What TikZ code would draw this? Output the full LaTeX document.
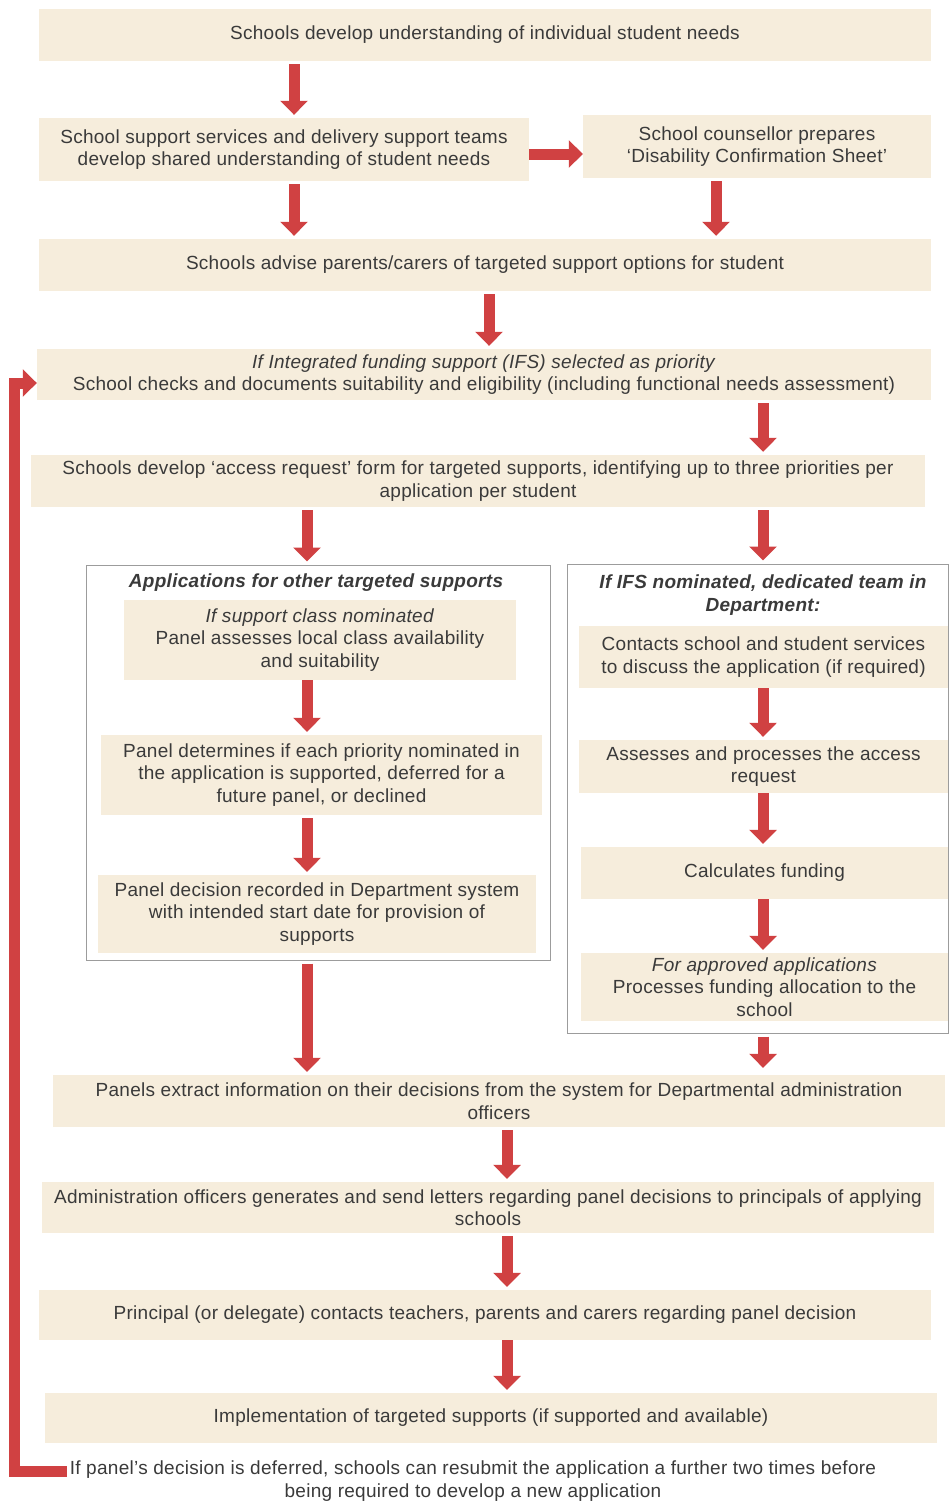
\documentclass[tikz,border=0pt]{standalone}
\usepackage{fontspec}
\setmainfont[LetterSpace=1.5]{Liberation Sans}
\usetikzlibrary{arrows.meta}

\definecolor{boxfill}{HTML}{F6EDDC}
\definecolor{flowred}{HTML}{D04142}
\definecolor{inktext}{HTML}{3A3A3A}
\definecolor{framegray}{HTML}{9C9C9C}

\begin{document}
\begin{tikzpicture}[x=1pt,y=-1pt,
  box/.style={fill=boxfill, text=inktext, align=center, inner sep=0pt,
              font=\fontsize{19}{22.5}\selectfont},
  frame/.style={draw=framegray, line width=1pt, inner sep=0pt},
  heading/.style={text=inktext, align=center, inner sep=0pt,
                  font=\fontsize{19}{23}\selectfont\bfseries\itshape},
  flow/.style={draw=flowred, line width=11pt, line join=miter,
               -{Triangle[width=27pt,length=14pt]},
               shorten <=3pt, shorten >=3pt},
]
\useasboundingbox (0,0) rectangle (949,1501);

% columns and rows the arrows run along
\coordinate (colA) at (294,0);
\coordinate (colB) at (716,0);
\coordinate (colC) at (489,0);
\coordinate (colD) at (763,0);
\coordinate (colE) at (307,0);
\coordinate (colG) at (507,0);
\coordinate (rowH) at (0,154);
\coordinate (backLow) at (14,1471);
\coordinate (backHigh) at (14,383);

% main steps
\node[box, minimum width=892pt, minimum height=52pt] (needs) at (485,35)
  {Schools develop understanding of individual student needs};
\node[box, minimum width=490pt, minimum height=63pt] (shared) at (284,149.5)
  {School support services and delivery support teams\\develop shared understanding of student needs};
\node[box, minimum width=348pt, minimum height=63pt] (counsellor) at (757,146.5)
  {School counsellor prepares\\‘Disability Confirmation Sheet’};
\node[box, minimum width=892pt, minimum height=52pt] (advise) at (485,265)
  {Schools advise parents/carers of targeted support options for student};
\node[box, minimum width=894pt, minimum height=51pt] (ifs) at (484,374.5)
  {\textit{If Integrated funding support (IFS) selected as priority}\\School checks and documents suitability and eligibility (including functional needs assessment)};
\node[box, minimum width=894pt, minimum height=52pt] (access) at (478,481)
  {Schools develop ‘access request’ form for targeted supports, identifying up to three priorities per\\application per student};

% left panel
\node[frame, minimum width=464pt, minimum height=395pt] (panelL) at (318,762.5) {};
\node[heading] (titleL) at (316,583) {Applications for other targeted supports};
\node[box, minimum width=392pt, minimum height=80pt] (classL) at (320,640)
  {\textit{If support class nominated}\\Panel assesses local class availability\\and suitability};
\node[box, minimum width=441pt, minimum height=80pt] (decideL) at (321.5,775)
  {Panel determines if each priority nominated in\\the application is supported, deferred for a\\future panel, or declined};
\node[box, minimum width=438pt, minimum height=78pt] (recordL) at (317,914)
  {Panel decision recorded in Department system\\with intended start date for provision of\\supports};

% right panel
\node[frame, minimum width=381pt, minimum height=469pt] (panelR) at (757.5,798.5) {};
\node[heading] (titleR) at (763,595) {If IFS nominated, dedicated team in\\Department:};
\node[box, minimum width=369pt, minimum height=62pt] (contactR) at (763.5,657)
  {Contacts school and student services\\to discuss the application (if required)};
\node[box, minimum width=369pt, minimum height=53pt] (assessR) at (763.5,766.5)
  {Assesses and processes the access\\request};
\node[box, minimum width=367pt, minimum height=52pt] (fundR) at (764.5,873)
  {Calculates funding};
\node[box, minimum width=367pt, minimum height=68pt] (allocR) at (764.5,987)
  {\textit{For approved applications}\\Processes funding allocation to the\\school};

% closing steps
\node[box, minimum width=892pt, minimum height=52pt] (extract) at (499,1101)
  {Panels extract information on their decisions from the system for Departmental administration\\officers};
\node[box, minimum width=892pt, minimum height=51pt] (letters) at (488,1207.5)
  {Administration officers generates and send letters regarding panel decisions to principals of applying\\schools};
\node[box, minimum width=892pt, minimum height=50pt] (principal) at (485,1315)
  {Principal (or delegate) contacts teachers, parents and carers regarding panel decision};
\node[box, minimum width=892pt, minimum height=50pt] (implement) at (491,1418)
  {Implementation of targeted supports (if supported and available)};
\node[box, fill=none] (deferred) at (473,1481)
  {If panel’s decision is deferred, schools can resubmit the application a further two times before\\being required to develop a new application};

\path
  (needs.south -| colA) edge[flow] (shared.north -| colA)
  (shared.east |- rowH) edge[flow, shorten <=0pt, shorten >=0pt] (counsellor.west |- rowH)
  (shared.south -| colA) edge[flow] (advise.north -| colA)
  (counsellor.south -| colB) edge[flow] (advise.north -| colB)
  (advise.south -| colC) edge[flow] (ifs.north -| colC)
  (ifs.south -| colD) edge[flow] (access.north -| colD)
  (access.south -| colE) edge[flow] (panelL.north -| colE)
  (access.south -| colD) edge[flow] (panelR.north -| colD)
  (classL.south -| colE) edge[flow, shorten <=0pt] (decideL.north -| colE)
  (decideL.south -| colE) edge[flow] (recordL.north -| colE)
  (contactR.south -| colD) edge[flow, shorten <=0pt] (assessR.north -| colD)
  (assessR.south -| colD) edge[flow, shorten <=0pt] (fundR.north -| colD)
  (fundR.south -| colD) edge[flow, shorten <=0pt] (allocR.north -| colD)
  (panelL.south -| colE) edge[flow] (extract.north -| colE)
  (panelR.south -| colD) edge[flow, shorten >=7pt] (extract.north -| colD)
  (extract.south -| colG) edge[flow] (letters.north -| colG)
  (letters.south -| colG) edge[flow] (principal.north -| colG)
  (principal.south -| colG) edge[flow, shorten <=0pt] (implement.north -| colG);

% deferred applications go back round
\draw[flow, shorten >=0pt]
  (backLow -| deferred.west) -- (backLow) -- (backHigh) -- (ifs.west |- backHigh);
\end{tikzpicture}
\end{document}
